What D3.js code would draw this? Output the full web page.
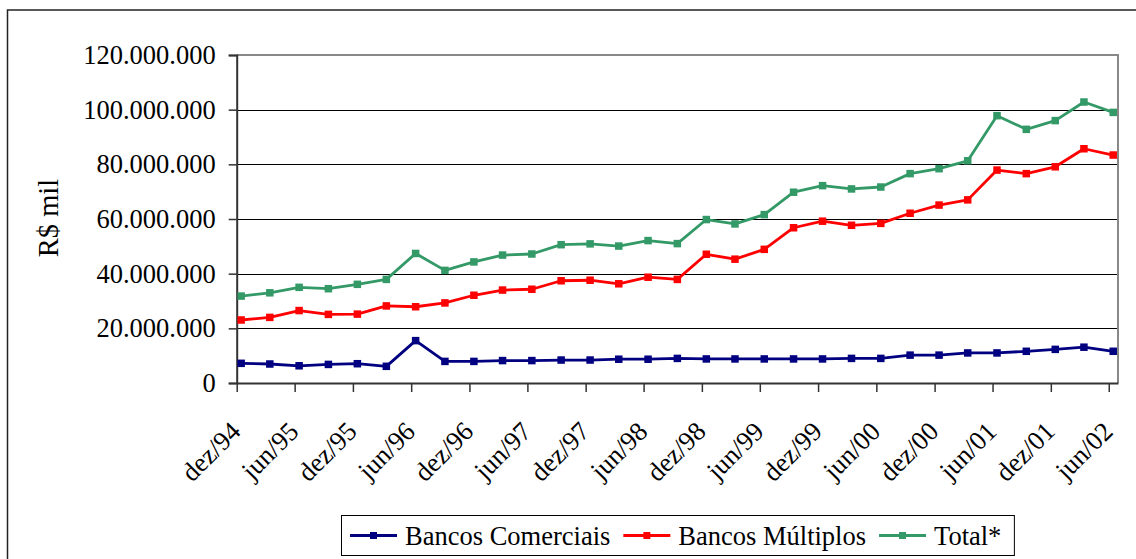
<!DOCTYPE html>
<html>
<head>
<meta charset="utf-8">
<script src="https://cdn.jsdelivr.net/npm/d3@7"></script>
<style>
  html, body { margin: 0; padding: 0; background: #fff; }
  svg { display: block; }
  text { font-family: "Liberation Serif", "Times New Roman", serif; fill: #000; }
</style>
</head>
<body>
<svg id="chart" width="1136" height="559"></svg>
<script>
// ---- Data (R$ mil), quarterly ----
const categories = ["dez/94","mar/95","jun/95","set/95","dez/95","mar/96","jun/96","set/96","dez/96","mar/97","jun/97","set/97",
  "dez/97","mar/98","jun/98","set/98","dez/98","mar/99","jun/99","set/99","dez/99","mar/00","jun/00","set/00",
  "dez/00","mar/01","jun/01","set/01","dez/01","mar/02","jun/02"];
const bancosComerciais = [7200000,6950000,6300000,6800000,7060000,6100000,15500000,7900000,7900000,8200000,8200000,8400000,
  8400000,8700000,8700000,9000000,8800000,8800000,8800000,8800000,8800000,9000000,9000000,10200000,
  10200000,11000000,11000000,11600000,12300000,13100000,11600000];
const bancosMultiplos = [23050000,24000000,26500000,25100000,25200000,28200000,27900000,29300000,32100000,34000000,34300000,37400000,
  37600000,36300000,38700000,37900000,47100000,45300000,48900000,56800000,59200000,57700000,58400000,62100000,
  65100000,67000000,77900000,76600000,79100000,85700000,83400000];
const total = [31800000,33000000,35000000,34500000,36100000,37900000,47400000,41200000,44300000,46800000,47200000,50600000,
  50900000,50100000,52100000,51000000,59800000,58200000,61600000,69800000,72200000,71000000,71700000,76600000,
  78400000,81300000,97800000,92800000,96000000,102800000,99000000];
const tickLabels = ["dez/94","jun/95","dez/95","jun/96","dez/96","jun/97","dez/97","jun/98","dez/98","jun/99","dez/99","jun/00","dez/00","jun/01","dez/01","jun/02"];
const yTicks = [0,20000000,40000000,60000000,80000000,100000000,120000000];
const seriesNames = ["Bancos Comerciais","Bancos Múltiplos","Total*"];
const seriesColors = ["#000080","#FF0000","#339966"];

// ---- helpers ----
const monthIdx = {jan:0,fev:1,mar:2,abr:3,mai:4,jun:5,jul:6,ago:7,set:8,out:9,nov:10,dez:11};
function parseCat(s, day) {
  const [m, y] = s.split("/");
  const yy = +y < 50 ? 2000 + +y : 1900 + +y;
  return new Date(Date.UTC(yy, monthIdx[m], day));
}

const FONT = '"Liberation Serif", "Times New Roman", serif';
const svg = d3.select("#chart");
const plot = {left: 236.7, right: 1118, top: 55, bottom: 383};

const x = d3.scaleUtc()
  .domain([parseCat("dez/94", 1), new Date(Date.UTC(2002, 5, 30))])
  .range([plot.left, plot.right]);
const y = d3.scaleLinear().domain([0, 120000000]).range([plot.bottom, plot.top]);

const locale = d3.formatLocale({decimal: ",", thousands: ".", grouping: [3], currency: ["R$", ""]});
const fmt = locale.format(",");

// outer chart border
svg.append("rect")
  .attr("x", 7.5).attr("y", 10).attr("width", 1140).attr("height", 560)
  .attr("fill", "none").attr("stroke", "#222").attr("stroke-width", 1.5);

// gridlines
svg.append("g").selectAll("line").data(yTicks.slice(1, -1)).join("line")
  .attr("x1", plot.left).attr("x2", plot.right)
  .attr("y1", d => Math.round(y(d)) + 0.5).attr("y2", d => Math.round(y(d)) + 0.5)
  .attr("stroke", "#000").attr("stroke-width", 1);

// plot area border top & right
svg.append("path")
  .attr("d", `M${plot.left},${plot.top}H${plot.right}V${plot.bottom}`)
  .attr("fill", "none").attr("stroke", "#888").attr("stroke-width", 2);

// y axis
const yAxis = d3.axisLeft(y).tickValues(yTicks).tickFormat(fmt).tickSize(8).tickPadding(13);
const gy = svg.append("g").attr("transform", `translate(${plot.left},0)`).call(yAxis);
gy.attr("font-family", FONT);
gy.select(".domain").attr("stroke", "#333").attr("stroke-width", 2);
gy.selectAll(".tick line").attr("stroke", "#333").attr("stroke-width", 1.5);
gy.selectAll(".tick text")
  .attr("font-family", FONT)
  .attr("font-size", 26.5).attr("fill", "#000");

// x axis
const tickDates = tickLabels.map(s => parseCat(s, 1));
const xAxis = d3.axisBottom(x).tickValues(tickDates).tickFormat((d, i) => tickLabels[i]).tickSize(9).tickSizeOuter(0);
const gx = svg.append("g").attr("transform", `translate(0,${plot.bottom})`).call(xAxis);
gx.attr("font-family", FONT);
gx.select(".domain").attr("stroke", "#333").attr("stroke-width", 2);
gx.selectAll(".tick line").attr("stroke", "#333").attr("stroke-width", 1.5);
gx.selectAll(".tick text")
  .attr("font-family", FONT)
  .attr("font-size", 26.5).attr("fill", "#000")
  .attr("text-anchor", "end")
  .attr("dy", null)
  .attr("y", 0)
  .attr("transform", "translate(5,50) rotate(-45)");

// y title
svg.append("text")
  .attr("transform", "translate(58,218) rotate(-90)")
  .attr("text-anchor", "middle")
  .attr("font-size", 28.5)
  .text("R$ mil");

// series
const seriesData = [bancosComerciais, bancosMultiplos, total];
const line = d3.line().x((d, i) => x(parseCat(categories[i], 15))).y(d => y(d));
seriesData.forEach((vals, si) => {
  const g = svg.append("g");
  g.append("path").datum(vals)
    .attr("d", line).attr("fill", "none")
    .attr("stroke", seriesColors[si]).attr("stroke-width", 2.8).attr("stroke-linejoin", "round");
  g.selectAll("rect").data(vals).join("rect")
    .attr("x", (d, i) => x(parseCat(categories[i], 15)) - 3.75)
    .attr("y", d => y(d) - 3.75)
    .attr("width", 7.5).attr("height", 7.5)
    .attr("fill", seriesColors[si]);
});

// legend
const legend = svg.append("g");
const box = legend.append("rect").attr("x", 341.5).attr("y", 515.5).attr("height", 40)
  .attr("fill", "#fff").attr("stroke", "#000").attr("stroke-width", 1);
let cx = 350;
seriesNames.forEach((name, i) => {
  legend.append("line").attr("x1", cx).attr("x2", cx + 47).attr("y1", 535.5).attr("y2", 535.5)
    .attr("stroke", seriesColors[i]).attr("stroke-width", 2.8);
  legend.append("rect").attr("x", cx + 23.5 - 3.5).attr("y", 532).attr("width", 7).attr("height", 7)
    .attr("fill", seriesColors[i]);
  const t = legend.append("text").attr("x", cx + 55).attr("y", 544.5).attr("font-size", 26.5).text(name);
  cx = cx + 55 + t.node().getComputedTextLength() + 13;
});
box.attr("width", cx - 341.5 + 0);
</script>
</body>
</html>
